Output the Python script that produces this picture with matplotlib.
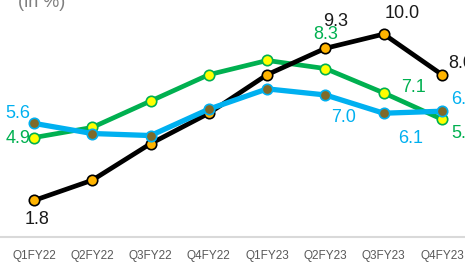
import numpy as np
import matplotlib
matplotlib.use("Agg")
import matplotlib.pyplot as plt

plt.rcParams['font.family'] = ['Liberation Sans', 'DejaVu Sans']

# data (in %)
quarters = ['Q1FY22', 'Q2FY22', 'Q3FY22', 'Q4FY22', 'Q1FY23', 'Q2FY23', 'Q3FY23', 'Q4FY23']
black_vals = [1.8, 2.8, 4.6, 6.1, 8.0, 9.3, 10.0, 8.0]
green_vals = [4.9, 5.4, 6.7, 8.0, 8.7, 8.3, 7.1, 5.8]
blue_vals = [5.6, 5.1, 5.0, 6.3, 7.3, 7.0, 6.1, 6.2]

# which points carry a value label, with pixel offsets
black_labels = {0: (3, -19), 5: (10, 27), 6: (18, 21), 7: (19, 11)}
green_labels = {0: (-16, -1), 5: (0, 34), 6: (30, 5), 7: (22, -14)}
blue_labels = {0: (-16, 10), 5: (18, -23), 6: (27, -25), 7: (22, 12)}

fig = plt.figure(figsize=(4.65, 2.65), dpi=100)
ax = fig.add_axes([0, 28 / 265, 1, 237 / 265])

x = np.arange(len(quarters))
px = 58.29
ax.set_xlim(-34 / px, (465 - 34) / px)
ax.set_ylim(0, 11.68)

series = [
    (green_vals, '#00B050', '#FFFF00', '#00B050', green_labels, 2, 3.4),
    (black_vals, '#000000', '#FFB400', '#000000', black_labels, 3, 3.4),
    (blue_vals, '#00B0F0', '#7F6A2A', '#00B0F0', blue_labels, 4, 3.8),
]

for vals, lc, mfc, mec, labels, z, lw in series:
    ax.plot(x, vals, color=lc, linewidth=lw, marker='o', markersize=7.5,
            markerfacecolor=mfc, markeredgecolor=mec, markeredgewidth=1.2,
            zorder=z, solid_capstyle='round')
    for i, (dx, dy) in labels.items():
        ax.annotate(f'{vals[i]:.1f}', (x[i], vals[i]), xytext=(dx, dy),
                    textcoords='offset pixels', ha='center', va='center',
                    fontsize=13, color=lc if lc != '#000000' else '#1a1a1a',
                    annotation_clip=False, zorder=6)

ax.set_xticks(x)
ax.set_xticklabels(quarters, fontsize=8.5, color='#595959')
ax.tick_params(axis='x', length=0, pad=9)
ax.set_yticks([])
for s in ['top', 'left', 'right']:
    ax.spines[s].set_visible(False)
ax.spines['bottom'].set_color('#d9d9d9')
ax.spines['bottom'].set_linewidth(1.5)
ax.patch.set_alpha(0)

fig.text(18 / 465, 1 - 7 / 265, '(in %)', fontsize=13, color='#7f7f7f',
         ha='left', va='baseline')

fig.savefig('out.png', dpi=100)
